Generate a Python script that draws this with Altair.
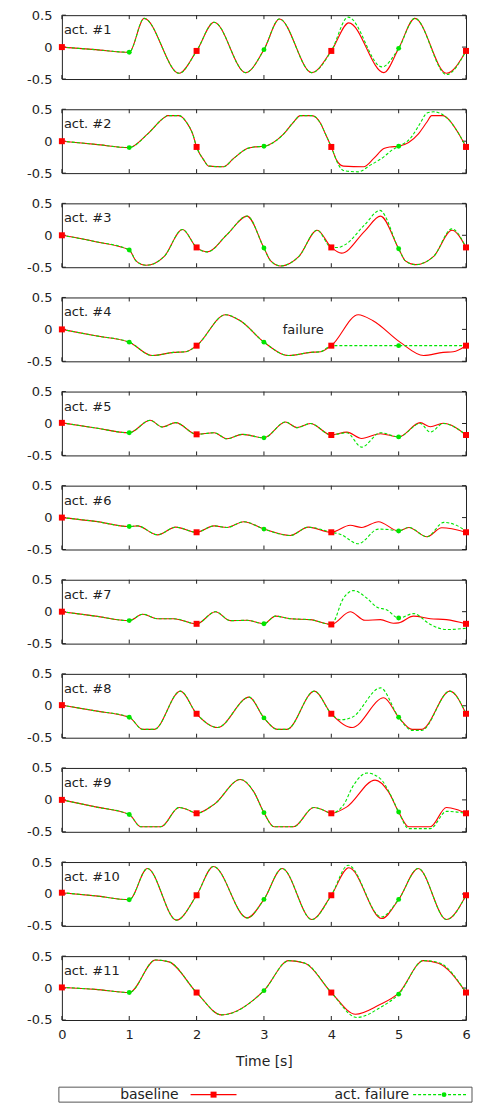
import altair as alt
import pandas as pd

RED = "#ff0000"
GREEN = "#00e600"
INK = "#222222"
FONT = "DejaVu Sans"

SERIES = ["baseline", "act. failure"]
PANEL_LABELS = [f"act. #{i}" for i in range(1, 12)]
X_TICKS = [0, 1, 2, 3, 4, 5, 6]
Y_TICKS = [-0.5, 0, 0.5]
BASE_MARK_T = [0, 2, 4, 6]
FAIL_MARK_T = [1, 3, 5]

# ---- data: (time [s], value) ----
A1_COMMON = [(0, 0.0), (0.5, -0.04), (1, -0.08), (1.22, 0.45), (1.74, -0.41), (2, -0.06),
             (2.26, 0.39), (2.73, -0.40), (3, -0.04), (3.23, 0.44), (3.71, -0.40), (4, -0.06)]
A1_BASE = [(4.26, 0.38), (4.78, -0.40), (5, -0.02), (5.24, 0.45), (5.71, -0.41), (6, -0.06)]
A1_FAIL = [(4.25, 0.47), (4.75, -0.31), (5, -0.02), (5.24, 0.45), (5.71, -0.43), (6, -0.06)]

A2_COMMON = [(0, 0.0), (0.5, -0.05), (1, -0.10), (1.27, 0.11), (1.52, 0.37), (1.57, 0.40),
             (1.74, 0.40), (1.86, 0.28), (1.94, 0.12), (2, -0.09), (2.11, -0.30), (2.18, -0.39),
             (2.40, -0.40), (2.55, -0.27), (2.75, -0.115), (2.85, -0.09), (3, -0.08), (3.29, 0.11),
             (3.44, 0.30), (3.54, 0.40), (3.71, 0.40), (3.84, 0.28), (3.91, 0.12), (4, -0.09)]
A2_BASE = [(4.08, -0.30), (4.18, -0.39), (4.48, -0.40), (4.63, -0.27), (4.78, -0.115), (4.87, -0.09),
           (5, -0.08), (5.29, 0.11), (5.42, 0.30), (5.49, 0.40), (5.66, 0.40), (5.79, 0.28),
           (5.89, 0.12), (6, -0.09)]
A2_FAIL = [(4.11, -0.375), (4.18, -0.46), (4.40, -0.48), (4.58, -0.375), (4.78, -0.245), (4.90, -0.14),
           (5, -0.08), (5.17, 0.04), (5.32, 0.28), (5.42, 0.44), (5.52, 0.46), (5.66, 0.41),
           (5.79, 0.28), (5.89, 0.12), (6, -0.09)]

A3_COMMON = [(0, 0.0), (0.5, -0.10), (1, -0.23), (1.1, -0.40), (1.25, -0.47), (1.52, -0.33),
             (1.79, 0.09), (2, -0.19), (2.16, -0.26), (2.45, 0.01), (2.75, 0.30), (3, -0.20),
             (3.1, -0.40), (3.25, -0.48), (3.52, -0.33), (3.79, 0.08), (4, -0.19)]
A3_BASE = [(4.15, -0.28), (4.5, 0.07), (4.73, 0.30), (5, -0.21), (5.1, -0.40), (5.25, -0.46),
           (5.52, -0.33), (5.79, 0.08), (6, -0.19)]
A3_FAIL = [(4.1, -0.19), (4.2, -0.15), (4.5, 0.17), (4.72, 0.39), (5, -0.21), (5.1, -0.40),
           (5.25, -0.46), (5.52, -0.33), (5.79, 0.10), (6, -0.19)]

A4_COMMON = [(0, 0.0), (0.5, -0.10), (1, -0.20), (1.34, -0.41), (1.66, -0.36), (1.84, -0.35),
             (2, -0.255), (2.43, 0.23), (2.65, 0.135), (3, -0.20), (3.37, -0.41), (3.69, -0.36),
             (3.84, -0.35), (4, -0.255)]
A4_BASE = [(4.4, 0.23), (4.62, 0.135), (5.02, -0.20), (5.37, -0.41), (5.66, -0.36), (5.81, -0.35),
           (6, -0.255)]
A4_FAIL = [(5, -0.255), (6, -0.255)]

A5_COMMON = [(0, 0.01), (0.5, -0.07), (1, -0.145), (1.31, 0.05), (1.49, -0.055), (1.69, 0.013),
             (2, -0.17), (2.26, -0.145), (2.45, -0.24), (2.68, -0.17), (3, -0.225), (3.32, 0.024),
             (3.49, -0.065), (3.69, 0.0), (4, -0.18)]
A5_BASE = [(4.23, -0.135), (4.45, -0.235), (4.73, -0.16), (5, -0.21), (5.32, 0.013), (5.47, -0.05),
           (5.66, 0.003), (6, -0.18)]
A5_FAIL = [(4.23, -0.145), (4.45, -0.37), (4.73, -0.145), (5, -0.21), (5.32, 0.0), (5.47, -0.135),
           (5.66, 0.0), (6, -0.18)]

A6_COMMON = [(0, 0.0), (0.5, -0.06), (1, -0.14), (1.12, -0.13), (1.42, -0.27), (1.69, -0.15),
             (2, -0.23), (2.26, -0.13), (2.45, -0.155), (2.70, -0.065), (3, -0.18), (3.39, -0.28),
             (3.66, -0.15), (4, -0.23)]
A6_BASE = [(4.28, -0.12), (4.45, -0.155), (4.70, -0.065), (5, -0.21), (5.15, -0.155), (5.42, -0.30),
           (5.64, -0.16), (6, -0.23)]
A6_FAIL = [(4.13, -0.26), (4.40, -0.41), (4.70, -0.18), (4.87, -0.19), (5, -0.21), (5.15, -0.155),
           (5.42, -0.30), (5.67, -0.075), (5.81, -0.10), (6, -0.21)]

A7_COMMON = [(0, 0.0), (0.5, -0.07), (1, -0.14), (1.2, -0.04), (1.42, -0.11), (1.66, -0.11),
             (2, -0.19), (2.28, 0.0), (2.5, -0.14), (2.75, -0.135), (3, -0.19), (3.17, -0.07),
             (3.39, -0.11), (3.69, -0.125), (4, -0.20)]
A7_BASE = [(4.28, 0.0), (4.5, -0.135), (4.73, -0.125), (4.92, -0.18), (5, -0.175), (5.22, -0.07),
           (5.47, -0.11), (5.71, -0.125), (6, -0.19)]
A7_FAIL = [(4.18, 0.21), (4.33, 0.33), (4.53, 0.21), (4.68, 0.07), (4.82, 0.03), (5, -0.10),
           (5.22, -0.03), (5.47, -0.20), (5.71, -0.28), (6, -0.26)]

A8_COMMON = [(0, 0.01), (0.5, -0.08), (1, -0.18), (1.2, -0.37), (1.37, -0.37), (1.76, 0.23),
             (2, -0.125), (2.31, -0.34), (2.78, 0.135), (3, -0.19), (3.2, -0.37), (3.34, -0.37),
             (3.75, 0.23), (4, -0.125)]
A8_BASE = [(4.31, -0.34), (4.78, 0.125), (5, -0.18), (5.2, -0.37), (5.34, -0.37), (5.76, 0.23),
           (6, -0.125)]
A8_FAIL = [(4.13, -0.22), (4.31, -0.18), (4.73, 0.28), (5, -0.18), (5.2, -0.385), (5.34, -0.385),
           (5.76, 0.23), (6, -0.125)]

A9_COMMON = [(0, 0.0), (0.5, -0.11), (1, -0.23), (1.17, -0.42), (1.47, -0.42), (1.74, -0.12),
             (1.86, -0.15), (2, -0.21), (2.26, -0.07), (2.65, 0.32), (2.85, 0.125), (3, -0.20),
             (3.15, -0.42), (3.44, -0.42), (3.74, -0.12), (3.86, -0.15), (4, -0.21)]
A9_BASE = [(4.23, -0.11), (4.65, 0.31), (4.85, 0.125), (5, -0.19), (5.15, -0.42), (5.47, -0.42),
           (5.71, -0.12), (5.86, -0.15), (6, -0.21)]
A9_FAIL = [(4.18, -0.08), (4.33, 0.23), (4.53, 0.42), (4.73, 0.33), (4.87, 0.10), (5, -0.19),
           (5.15, -0.45), (5.47, -0.45), (5.71, -0.18), (6, -0.21)]

A10_COMMON = [(0, 0.02), (0.5, -0.03), (1, -0.09), (1.27, 0.40), (1.70, -0.41), (2, -0.02),
              (2.25, 0.43), (2.75, -0.375), (3, -0.085), (3.27, 0.40), (3.71, -0.40), (4, -0.02)]
A10_BASE = [(4.26, 0.41), (4.75, -0.385), (5, -0.085), (5.29, 0.40), (5.71, -0.40), (6, -0.02)]
A10_FAIL = [(4.25, 0.45), (4.74, -0.36), (5, -0.085), (5.29, 0.40), (5.71, -0.40), (6, -0.02)]

A11_COMMON = [(0, 0.01), (0.5, -0.02), (1, -0.07), (1.39, 0.44), (1.59, 0.41), (2, -0.07),
              (2.37, -0.42), (3, -0.04), (3.37, 0.43), (3.61, 0.39), (4, -0.07)]
A11_BASE = [(4.36, -0.41), (4.7, -0.27), (5, -0.08), (5.37, 0.43), (5.59, 0.39), (6, -0.07)]
A11_FAIL = [(4.38, -0.46), (4.72, -0.31), (5, -0.095), (5.37, 0.43), (5.59, 0.40), (6, -0.07)]

PANELS = [
    (A1_COMMON, A1_BASE, A1_FAIL), (A2_COMMON, A2_BASE, A2_FAIL), (A3_COMMON, A3_BASE, A3_FAIL),
    (A4_COMMON, A4_BASE, A4_FAIL), (A5_COMMON, A5_BASE, A5_FAIL), (A6_COMMON, A6_BASE, A6_FAIL),
    (A7_COMMON, A7_BASE, A7_FAIL), (A8_COMMON, A8_BASE, A8_FAIL), (A9_COMMON, A9_BASE, A9_FAIL),
    (A10_COMMON, A10_BASE, A10_FAIL), (A11_COMMON, A11_BASE, A11_FAIL),
]

# annotation in panel 4
NOTE_PANEL = 3
NOTE_TEXT = ["failure"]
NOTE_T = [3.28]
NOTE_V = [-0.07]

W, H = 405, 64
FS = 13

xs = alt.Scale(domain=[0, 6], nice=False, zero=False)
ys = alt.Scale(domain=[-0.5, 0.5], nice=False, zero=False)
Y_LABELS = "datum.value < 0 ? '-' + format(-datum.value, '~g') : format(datum.value, '~g')"


def series_df(common, tail, name):
    pts = list(common) + list(tail)
    return pd.DataFrame({"t": [p[0] for p in pts], "v": [p[1] for p in pts], "series": name})


def make_panel(idx, last):
    common, btail, ftail = PANELS[idx]
    bdf = series_df(common, btail, SERIES[0])
    fdf = series_df(common, ftail, SERIES[1])
    if last:
        xaxis = alt.Axis(values=X_TICKS, title="Time [s]", ticks=False, domain=False, grid=False,
                         labelPadding=9, titlePadding=13, format="d", labelFlush=False)
    else:
        xaxis = None
    yaxis = alt.Axis(values=Y_TICKS, title=None, ticks=False, domain=False, grid=False,
                     labelPadding=10, labelExpr=Y_LABELS)
    X = alt.X("t:Q", scale=xs, axis=xaxis)
    Y = alt.Y("v:Q", scale=ys, axis=yaxis)

    red_line = alt.Chart(bdf).mark_line(color=RED, strokeWidth=1.1, interpolate="monotone").encode(x=X, y=Y)
    green_line = alt.Chart(fdf).mark_line(color=GREEN, strokeWidth=1.1, strokeDash=[3, 2],
                                          interpolate="monotone").encode(x=X, y=Y)
    red_pts = alt.Chart(bdf[bdf.t.isin(BASE_MARK_T)]).mark_point(
        shape="square", filled=True, color=RED, size=36, opacity=1).encode(x=X, y=Y)
    green_pts = alt.Chart(fdf[fdf.t.isin(FAIL_MARK_T)]).mark_point(
        shape="circle", filled=True, color=GREEN, size=24, opacity=1).encode(x=X, y=Y)

    xt = pd.DataFrame({"t": X_TICKS})
    yt = pd.DataFrame({"v": Y_TICKS})
    tick_top = alt.Chart(xt).mark_rule(color=INK, strokeWidth=1).encode(x=X, y=alt.value(0), y2=alt.value(4))
    tick_bot = alt.Chart(xt).mark_rule(color=INK, strokeWidth=1).encode(x=X, y=alt.value(H - 4), y2=alt.value(H))
    tick_l = alt.Chart(yt).mark_rule(color=INK, strokeWidth=1).encode(y=Y, x=alt.value(0), x2=alt.value(4))
    tick_r = alt.Chart(yt).mark_rule(color=INK, strokeWidth=1).encode(y=Y, x=alt.value(W - 4), x2=alt.value(W))

    label = alt.Chart(pd.DataFrame({"label": [PANEL_LABELS[idx]]})).mark_text(
        align="left", baseline="alphabetic", font=FONT, fontSize=FS, color=INK
    ).encode(x=alt.value(2), y=alt.value(19), text="label:N")

    layers = [tick_top, tick_bot, tick_l, tick_r, red_line, green_line, red_pts, green_pts, label]
    if idx == NOTE_PANEL:
        note = alt.Chart(pd.DataFrame({"t": NOTE_T, "v": NOTE_V, "txt": NOTE_TEXT})).mark_text(
            align="left", baseline="alphabetic", font=FONT, fontSize=FS, color=INK
        ).encode(x=X, y=Y, text="txt:N")
        layers.append(note)
    return alt.layer(*layers).properties(width=W, height=H)


panels = [make_panel(i, i == len(PANELS) - 1) for i in range(len(PANELS))]

# ---- legend box ----
LB_TOP, LB_BOT = 37, 52
LY = (LB_TOP + LB_BOT) / 2
one = pd.DataFrame({"k": [0]})
leg_box = alt.Chart(one).mark_rect(fill="white", stroke="#555555", strokeWidth=1).encode(
    x=alt.value(-3), x2=alt.value(411), y=alt.value(LB_TOP), y2=alt.value(LB_BOT))
leg_t1 = alt.Chart(pd.DataFrame({"s": [SERIES[0]]})).mark_text(
    align="right", baseline="middle", font=FONT, fontSize=FS + 1, color=INK
).encode(x=alt.value(117), y=alt.value(LY), text="s:N")
leg_l1 = alt.Chart(one).mark_rule(color=RED, strokeWidth=1.1).encode(
    x=alt.value(129), x2=alt.value(175), y=alt.value(LY))
leg_p1 = alt.Chart(one).mark_point(shape="square", filled=True, color=RED, size=36, opacity=1).encode(
    x=alt.value(152), y=alt.value(LY))
leg_t2 = alt.Chart(pd.DataFrame({"s": [SERIES[1]]})).mark_text(
    align="right", baseline="middle", font=FONT, fontSize=FS + 1, color=INK
).encode(x=alt.value(348), y=alt.value(LY), text="s:N")
leg_l2 = alt.Chart(one).mark_rule(color=GREEN, strokeWidth=1.1, strokeDash=[3, 2]).encode(
    x=alt.value(352), x2=alt.value(406), y=alt.value(LY))
leg_p2 = alt.Chart(one).mark_point(shape="circle", filled=True, color=GREEN, size=24, opacity=1).encode(
    x=alt.value(383), y=alt.value(LY))
legend = alt.layer(leg_box, leg_t1, leg_l1, leg_p1, leg_t2, leg_l2, leg_p2).properties(
    width=W, height=LB_BOT, view=alt.ViewBackground(stroke="transparent"))

chart = alt.vconcat(*panels, legend, spacing=30.3, bounds="flush").properties(
    padding={"left": 18, "top": -1, "right": 0, "bottom": 0}
).configure_view(stroke=INK, strokeWidth=1).configure_axis(
    labelFont=FONT, labelFontSize=FS, labelColor=INK,
    titleFont=FONT, titleFontSize=FS + 1, titleFontWeight="normal", titleColor=INK
)

chart.save("out.html", embed_options={"renderer": "svg", "actions": False})
